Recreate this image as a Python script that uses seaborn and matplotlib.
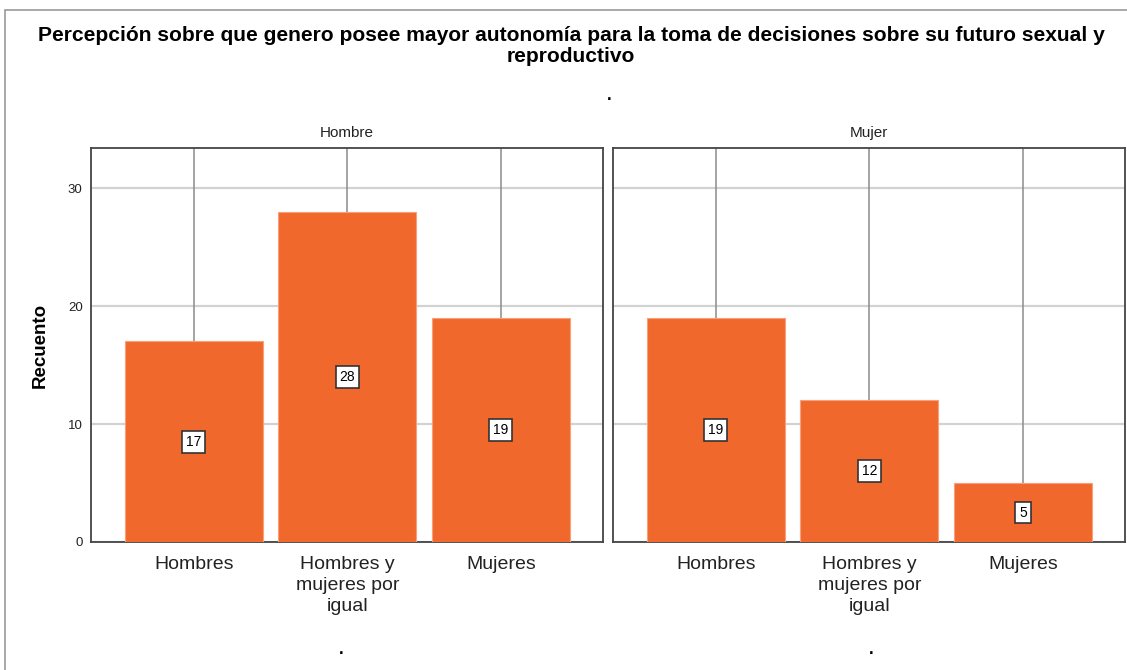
import matplotlib
matplotlib.use("Agg")
import matplotlib.pyplot as plt
import seaborn as sns
import pandas as pd
from matplotlib.patches import Rectangle

# data
categorias = ["Hombres", "Hombres y\nmujeres por\nigual", "Mujeres"]
paneles = ["Hombre", "Mujer"]
recuento_hombre = [17, 28, 19]
recuento_mujer = [19, 12, 5]
y_ticks = [0, 10, 20, 30]

titulo = ("Percepción sobre que genero posee mayor autonomía para la toma de decisiones sobre su futuro sexual y\n"
          "reproductivo")

sns.set_theme(style="white")
plt.rcParams["font.family"] = ["Liberation Sans", "DejaVu Sans"]

df = pd.DataFrame({
    "panel": [p for p in paneles for _ in categorias],
    "categoria": categorias * 2,
    "recuento": recuento_hombre + recuento_mujer,
})

W, H = 1127, 670
fig = plt.figure(figsize=(W / 100, H / 100), dpi=100)

# outer frame (SPSS style)
fig.patches.append(Rectangle((5 / W, -0.1), 1.2, 1 - 10 / H + 0.1, transform=fig.transFigure,
                             fill=False, edgecolor="#9a9a9a", linewidth=1.2))

fig.text(571 / W, 1 - 46 / H, titulo, ha="center", va="center", fontsize=15.1,
         fontweight="bold", linespacing=1.12, color="black")
fig.text(609 / W, 1 - 95 / H, ".", ha="center", va="center", fontsize=12, fontweight="bold",
         color="black")

color_barra = "#F1682D"
ymax = 33.4
posiciones = [(91, 603), (613, 1125)]

for i, (panel, (x0, x1)) in enumerate(zip(paneles, posiciones)):
    ax = fig.add_axes([x0 / W, 1 - 542 / H, (x1 - x0) / W, (542 - 148) / H])
    sub = df[df["panel"] == panel]
    sns.barplot(data=sub, x="categoria", y="recuento", order=categorias, color=color_barra,
                saturation=1, width=0.9, edgecolor="#F7A07A", linewidth=0.8, ax=ax, zorder=3)
    ax.set_ylim(0, ymax)
    ax.set_xlim(-0.67, 2.665)
    ax.set_yticks(y_ticks)
    ax.set_xlabel("")
    ax.set_ylabel("")
    ax.set_axisbelow(True)
    ax.grid(axis="y", color="#d2d2d2", linewidth=1.6, zorder=0)
    for xc in range(len(categorias)):
        ax.axvline(xc, color="#8c8c8c", linewidth=1.1, zorder=1)
    for s in ax.spines.values():
        s.set_color("#444444")
        s.set_linewidth(1.3)
    ax.set_xticks(range(len(categorias)))
    ax.set_xticklabels(categorias, linespacing=1.3, va="top")
    ax.tick_params(axis="x", labelsize=14, length=0, pad=10, labelcolor="#222222")
    if i == 0:
        ax.tick_params(axis="y", labelsize=9.5, length=0, pad=6, labelcolor="#222222")
        ax.set_ylabel("Recuento", fontsize=13.5, fontweight="bold", labelpad=14, color="black")
    else:
        ax.tick_params(axis="y", labelleft=False, length=0)
    ax.set_title(panel, fontsize=11, pad=8, color="#222222")
    vals = sub["recuento"].tolist()
    for xc, v in enumerate(vals):
        ax.text(xc, v / 2, str(v), ha="center", va="center", fontsize=10, zorder=5,
                color="black",
                bbox=dict(boxstyle="square,pad=0.28", facecolor="white", edgecolor="#333333",
                          linewidth=1.2))
    fig.text((x0 + x1) / 2 / W - 0.005 if i == 0 else (x0 + x1) / 2 / W + 0.002, 1 - 650 / H, ".",
             ha="center", va="center", fontsize=12, fontweight="bold", color="black")

fig.savefig("out.png", dpi=100)
